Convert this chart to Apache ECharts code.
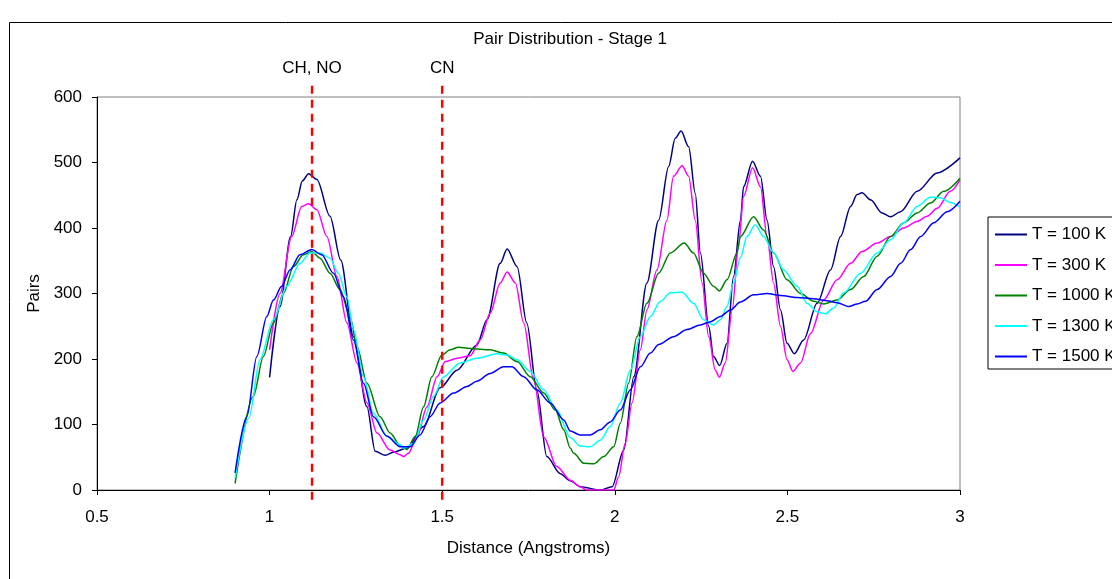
<!DOCTYPE html>
<html>
<head>
<meta charset="utf-8">
<script src="https://cdn.jsdelivr.net/npm/echarts@6/dist/echarts.min.js"></script>
<style>
html,body{margin:0;padding:0;background:#fff;}
#chart{width:1112px;height:579px;}
</style>
</head>
<body>
<div id="chart"></div>
<script>
// ---- data ----
var seriesNames = ['T = 100 K', 'T = 300 K', 'T = 1000 K', 'T = 1300 K', 'T = 1500 K'];

var t100 = [[1.0,172],[1.03,280],[1.061,387],[1.079,443],[1.095,472],[1.113,483],[1.137,474],[1.175,418],[1.206,351],[1.243,234],[1.282,127],[1.306,59],[1.335,53],[1.36,58],[1.398,64],[1.446,97],[1.494,156],[1.543,183],[1.6,221],[1.63,260],[1.668,346],[1.688,368],[1.717,341],[1.745,255],[1.774,153],[1.803,51],[1.842,25],[1.871,14],[1.9,5],[1.958,0],[1.992,5],[2.026,61],[2.055,173],[2.093,316],[2.127,412],[2.156,494],[2.175,537],[2.192,548],[2.214,524],[2.233,453],[2.248,362],[2.272,250],[2.286,204],[2.304,190],[2.325,224],[2.344,326],[2.364,412],[2.373,463],[2.399,502],[2.422,479],[2.441,412],[2.46,341],[2.48,275],[2.499,224],[2.52,208],[2.547,229],[2.586,285],[2.625,336],[2.654,387],[2.683,433],[2.702,451],[2.716,454],[2.741,443],[2.774,423],[2.799,417],[2.828,425],[2.876,456],[2.934,484],[3.0,507]];

var t300 = [[1.0,214],[1.03,300],[1.064,387],[1.093,433],[1.113,437],[1.137,428],[1.166,387],[1.195,326],[1.224,255],[1.253,194],[1.282,133],[1.311,87],[1.349,61],[1.378,54],[1.388,51],[1.402,56],[1.427,81],[1.456,127],[1.485,173],[1.509,196],[1.543,201],[1.581,205],[1.61,229],[1.639,270],[1.668,316],[1.688,333],[1.712,316],[1.736,255],[1.765,168],[1.794,81],[1.832,36],[1.871,15],[1.9,5],[1.919,0],[1.997,0],[2.011,20],[2.03,71],[2.05,133],[2.074,214],[2.093,275],[2.122,336],[2.151,412],[2.17,479],[2.195,495],[2.214,479],[2.233,412],[2.253,316],[2.272,234],[2.291,183],[2.303,172],[2.32,194],[2.34,275],[2.359,377],[2.373,448],[2.399,492],[2.422,463],[2.441,387],[2.46,316],[2.48,250],[2.499,199],[2.516,181],[2.538,194],[2.567,239],[2.605,290],[2.644,321],[2.683,346],[2.716,364],[2.76,377],[2.799,387],[2.837,400],[2.876,410],[2.905,418],[2.934,430],[2.972,456],[3.0,474]];

var t1000 = [[0.9,10],[0.953,143],[0.982,204],[1.011,255],[1.04,300],[1.069,341],[1.098,359],[1.122,364],[1.146,354],[1.175,331],[1.204,306],[1.233,265],[1.253,219],[1.282,163],[1.32,112],[1.349,87],[1.378,68],[1.398,62],[1.422,82],[1.446,127],[1.47,173],[1.499,206],[1.523,214],[1.547,218],[1.581,216],[1.639,214],[1.678,209],[1.717,196],[1.755,173],[1.794,148],[1.828,122],[1.852,92],[1.871,64],[1.881,56],[1.91,41],[1.939,40],[1.968,51],[1.997,66],[2.016,102],[2.04,163],[2.064,234],[2.093,285],[2.127,331],[2.161,362],[2.201,377],[2.228,362],[2.257,331],[2.286,311],[2.303,304],[2.325,321],[2.354,362],[2.364,387],[2.402,417],[2.431,397],[2.46,362],[2.499,321],[2.538,300],[2.576,288],[2.605,284],[2.644,290],[2.683,306],[2.721,326],[2.76,357],[2.799,387],[2.837,408],[2.876,423],[2.914,438],[2.953,456],[3.0,476]];

var t1300 = [[0.9,18],[0.94,110],[0.972,199],[1.011,260],[1.05,311],[1.088,346],[1.117,362],[1.146,362],[1.175,354],[1.199,331],[1.224,295],[1.243,245],[1.272,173],[1.301,117],[1.34,82],[1.378,69],[1.388,64],[1.417,71],[1.446,107],[1.475,143],[1.504,173],[1.552,194],[1.6,201],[1.659,208],[1.688,206],[1.717,199],[1.755,181],[1.794,153],[1.832,122],[1.871,80],[1.9,67],[1.929,66],[1.958,76],[1.987,97],[2.016,133],[2.045,183],[2.074,234],[2.103,265],[2.132,288],[2.161,301],[2.195,302],[2.228,285],[2.257,260],[2.286,252],[2.306,260],[2.325,280],[2.344,316],[2.364,355],[2.383,387],[2.407,405],[2.431,387],[2.46,362],[2.489,336],[2.528,311],[2.557,285],[2.586,272],[2.61,269],[2.634,278],[2.663,301],[2.712,331],[2.76,362],[2.799,382],[2.837,408],[2.876,433],[2.914,447],[2.943,446],[2.972,439],[3.0,432]];

var t1500 = [[0.9,26],[0.934,112],[0.963,204],[0.992,265],[1.011,290],[1.035,311],[1.059,336],[1.088,359],[1.122,367],[1.151,359],[1.185,331],[1.214,295],[1.243,229],[1.272,163],[1.301,112],[1.34,82],[1.378,66],[1.407,66],[1.436,84],[1.465,112],[1.494,133],[1.533,148],[1.572,158],[1.6,166],[1.639,178],[1.678,188],[1.702,188],[1.736,173],[1.774,153],[1.813,133],[1.852,107],[1.871,90],[1.9,84],[1.929,84],[1.958,92],[1.987,104],[2.016,122],[2.045,153],[2.074,188],[2.103,209],[2.127,222],[2.17,234],[2.209,245],[2.248,252],[2.277,257],[2.306,265],[2.335,275],[2.364,287],[2.402,298],[2.441,300],[2.48,297],[2.528,294],[2.576,292],[2.615,289],[2.644,286],[2.678,280],[2.702,284],[2.726,288],[2.76,306],[2.799,326],[2.828,346],[2.857,367],[2.886,387],[2.924,408],[2.963,425],[3.0,441]];

var markerX = [1.123, 1.5];
var markerLabels = ['CH, NO', 'CN'];
var markerYRange = [-15, 625];

var xTicks = {min: 0.5, max: 3, interval: 0.5};
var yTicks = {min: 0, max: 600, interval: 100};

// ---- chart ----
var FONT = '"Liberation Sans", Arial, sans-serif';
var FS = 17;
var colors = ['#000080', '#FF00FF', '#008000', '#00FFFF', '#0000FF'];
var allData = [t100, t300, t1000, t1300, t1500];

var series = allData.map(function (d, i) {
  return {
    name: seriesNames[i],
    type: 'line',
    data: d,
    symbol: 'none',
    smooth: 0.3,
    smoothMonotone: 'x',
    lineStyle: {color: colors[i], width: 1.5},
    itemStyle: {color: colors[i]},
    emphasis: {disabled: true},
    z: 3
  };
});

markerX.forEach(function (mx, i) {
  series.push({
    name: 'marker' + i,
    type: 'line',
    clip: false,
    data: [
      {value: [mx, markerYRange[0]]},
      {value: [mx, markerYRange[1]], label: {show: true, position: 'top', distance: 4, formatter: markerLabels[i], color: '#000', fontSize: FS, fontFamily: FONT}}
    ],
    symbol: 'circle',
    symbolSize: 0,
    showSymbol: true,
    lineStyle: {color: '#FF0000', width: 2.5, type: [8, 6]},
    itemStyle: {color: '#FF0000'},
    emphasis: {disabled: true},
    z: 5
  });
});

var chart = echarts.init(document.getElementById('chart'), null, {renderer: 'canvas'});
chart.setOption({
  backgroundColor: '#fff',
  animation: false,
  title: {
    text: 'Pair Distribution - Stage 1',
    left: 565,
    top: 26,
    textAlign: 'center',
    textStyle: {fontSize: FS, fontWeight: 'normal', color: '#000', fontFamily: FONT}
  },
  legend: {
    data: seriesNames,
    orient: 'vertical',
    left: 988,
    top: 217,
    padding: [9, 40, 4, 6],
    itemWidth: 32,
    itemHeight: 14,
    itemGap: 13.5,
    borderColor: '#000',
    borderWidth: 1,
    itemStyle: {opacity: 0},
    textStyle: {fontSize: FS, color: '#000', fontFamily: FONT}
  },
  grid: {left: 97, right: 152, top: 97, bottom: 89, show: true, borderColor: '#808080', borderWidth: 1, backgroundColor: '#fff'},
  xAxis: {
    type: 'value',
    min: xTicks.min, max: xTicks.max, interval: xTicks.interval,
    name: 'Distance (Angstroms)',
    nameLocation: 'middle',
    nameGap: 50,
    nameTextStyle: {fontSize: FS, color: '#000', fontFamily: FONT},
    axisLine: {lineStyle: {color: '#000', width: 1}},
    axisTick: {show: true, inside: false, length: 5, lineStyle: {color: '#000'}},
    axisLabel: {fontSize: FS, color: '#000', margin: 19, fontFamily: FONT},
    splitLine: {show: false}
  },
  yAxis: {
    type: 'value',
    min: yTicks.min, max: yTicks.max, interval: yTicks.interval,
    name: 'Pairs',
    nameLocation: 'middle',
    nameGap: 53,
    nameTextStyle: {fontSize: FS, color: '#000', fontFamily: FONT},
    axisLine: {show: true, lineStyle: {color: '#000', width: 1}},
    axisTick: {show: true, inside: false, length: 5, lineStyle: {color: '#000'}},
    axisLabel: {fontSize: FS, color: '#000', margin: 15, fontFamily: FONT},
    splitLine: {show: false}
  },
  graphic: [{
    type: 'rect',
    shape: {x: 9.5, y: 22.5, width: 1200, height: 700},
    style: {fill: null, stroke: '#000', lineWidth: 1},
    silent: true,
    z: 100
  }],
  series: series
});
</script>
</body>
</html>
